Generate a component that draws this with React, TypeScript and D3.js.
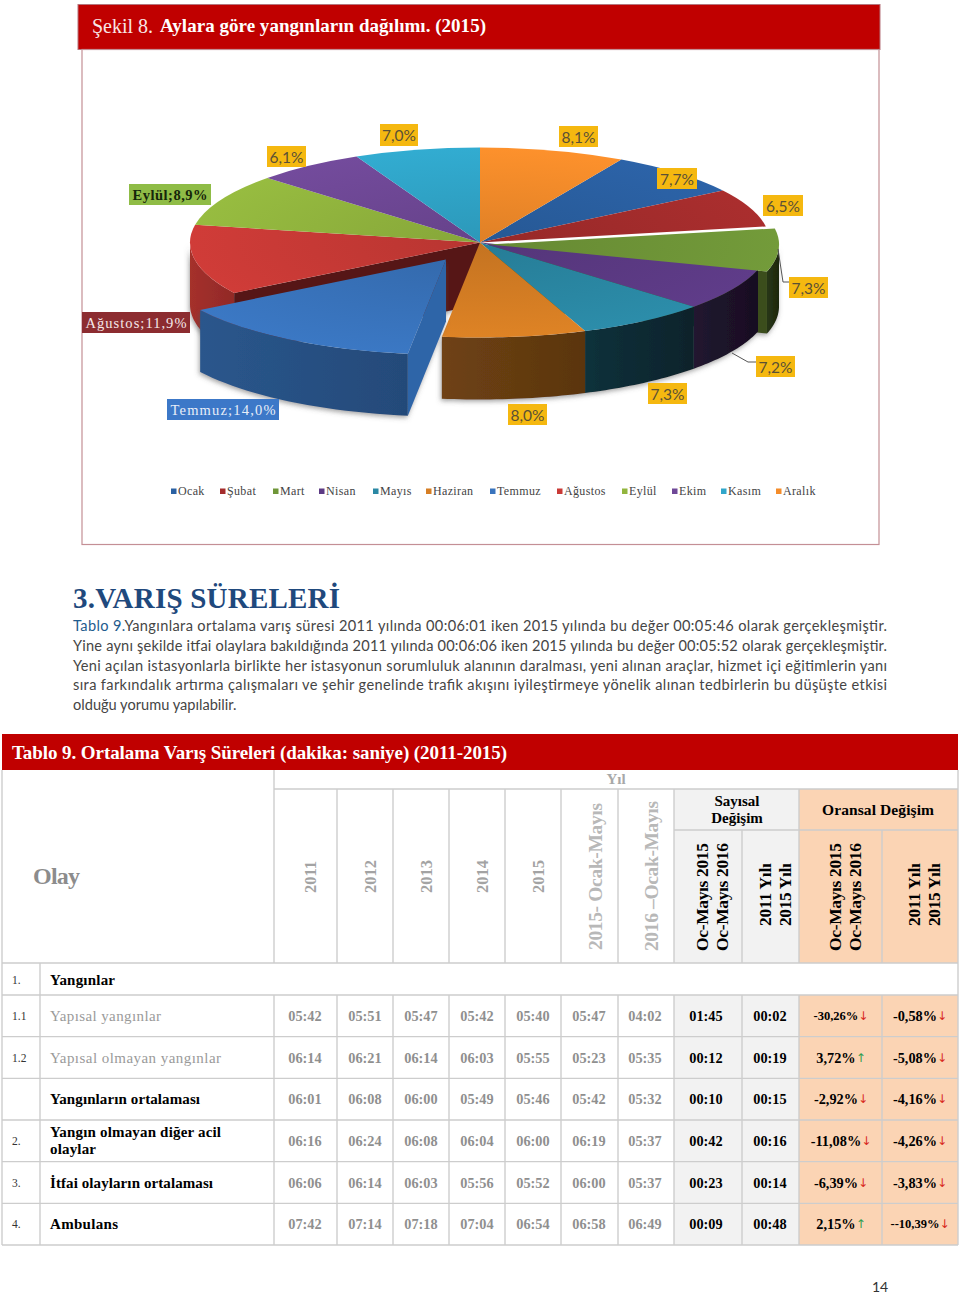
import React, { useEffect, useRef } from 'react';
import * as d3 from 'd3';

// pie data, Ocak first
const months = ['Ocak', 'Şubat', 'Mart', 'Nisan', 'Mayıs', 'Haziran', 'Temmuz', 'Ağustos', 'Eylül', 'Ekim', 'Kasım', 'Aralık'];
const shares = [7.7, 6.5, 7.3, 7.2, 7.3, 8.0, 14.0, 11.9, 8.9, 6.1, 7.0, 8.1];
const sliceColors = ['#2a60a2', '#a42c2c', '#6f9638', '#5c3a84', '#2a88a4', '#d67e24', '#3974bd', '#c93a36', '#92b53e', '#6f4897', '#30a6ca', '#f48c2a'];

// table data
const rowNumbers = ['1.1', '1.2', '', '2.', '3.', '4.'];
const rowNames = ['Yapısal yangınlar', 'Yapısal olmayan yangınlar', 'Yangınların ortalaması', 'Yangın olmayan diğer acil|olaylar', 'İtfai olayların ortalaması', 'Ambulans'];
const y2011 = ['05:42', '06:14', '06:01', '06:16', '06:06', '07:42'];
const y2012 = ['05:51', '06:21', '06:08', '06:24', '06:14', '07:14'];
const y2013 = ['05:47', '06:14', '06:00', '06:08', '06:03', '07:18'];
const y2014 = ['05:42', '06:03', '05:49', '06:04', '05:56', '07:04'];
const y2015 = ['05:40', '05:55', '05:46', '06:00', '05:52', '06:54'];
const oc2015 = ['05:47', '05:23', '05:42', '06:19', '06:00', '06:58'];
const oc2016 = ['04:02', '05:35', '05:32', '05:37', '05:37', '06:49'];
const diffOc = ['01:45', '00:12', '00:10', '00:42', '00:23', '00:09'];
const diffYear = ['00:02', '00:19', '00:15', '00:16', '00:14', '00:48'];
const rateOc = ['-30,26%', '3,72%', '-2,92%', '-11,08%', '-6,39%', '2,15%'];
const rateYear = ['-0,58%', '-5,08%', '-4,16%', '-4,26%', '-3,83%', '--10,39%'];

const paragraph = [
  'Yangınlara ortalama varış süresi 2011 yılında 00:06:01 iken 2015 yılında bu değer 00:05:46 olarak gerçekleşmiştir.',
  'Yine aynı şekilde itfai olaylara bakıldığında 2011 yılında 00:06:06 iken 2015 yılında bu değer 00:05:52 olarak gerçekleşmiştir.',
  'Yeni açılan istasyonlarla birlikte her istasyonun sorumluluk alanının daralması, yeni alınan araçlar, hizmet içi eğitimlerin yanı',
  'sıra farkındalık artırma çalışmaları ve şehir genelinde trafik akışını iyileştirmeye yönelik alınan tedbirlerin bu düşüşte etkisi',
  'olduğu yorumu yapılabilir.',
];

const SERIF = '"Liberation Serif", serif';
const SANS = 'Lato, "Open Sans", sans-serif';

export default function App() {
  const svgRef = useRef<SVGSVGElement>(null);

  useEffect(() => {
    if (!svgRef.current) return;
    const svg = d3.select(svgRef.current);
    svg.selectAll('*').remove();
    const defs = svg.append('defs');

    const txt = (parent: any, x: number, y: number, s: string, o: any = {}) =>
      parent.append('text')
        .attr('x', x).attr('y', y)
        .attr('dominant-baseline', 'central')
        .attr('font-family', o.family ?? SERIF)
        .attr('font-size', o.size ?? 14)
        .attr('font-weight', o.weight ?? 'normal')
        .attr('fill', o.fill ?? '#000')
        .attr('text-anchor', o.anchor ?? 'start')
        .attr('letter-spacing', o.ls ?? null)
        .attr('textLength', o.len ?? null)
        .attr('transform', o.rot ? `rotate(-90 ${x} ${y})` : null)
        .text(s);

    // header band + chart frame
    svg.append('rect').attr('x', 78).attr('y', 4.5).attr('width', 802).attr('height', 45)
      .attr('fill', '#c00000').attr('stroke', '#b5757d');
    svg.append('rect').attr('x', 82).attr('y', 49.5).attr('width', 797).attr('height', 495)
      .attr('fill', '#fff').attr('stroke', '#c48f95').attr('stroke-width', 1.2);
    txt(svg, 92, 25.5, 'Şekil 8.', { size: 20, fill: '#f8e6e6', len: 61 });
    txt(svg, 160, 25.5, 'Aylara göre yangınların dağılımı. (2015)', { size: 19, weight: 'bold', fill: '#fff', len: 326 });

    // 3d pie
    const cx = 480, cy = 242.5, rx = 290, ry = 95, depth = 62;
    const offsets: Record<string, [number, number]> = { Temmuz: [-34, 17], Mart: [9, 2] };
    const wallDark: Record<string, number> = { Mart: 0.68, Nisan: 0.68, Mayıs: 0.68, Haziran: 0.52, Temmuz: 0.3, Ağustos: 0.22 };

    const start = (shares[11] / 100) * 2 * Math.PI;
    const arcs = d3.pie<number>().sort(null).startAngle(start).endAngle(start + 2 * Math.PI)(shares);
    const byName = (n: string) => arcs[months.indexOf(n)];
    const off = (n: string) => offsets[n] ?? [0, 0];
    const topArc = d3.arc<any>().innerRadius(0).outerRadius(rx);
    const line = d3.line();
    const px = (a: number, d: [number, number]) => cx + d[0] + rx * Math.sin(a);
    const py = (a: number, d: [number, number]) => cy + d[1] - ry * Math.cos(a);

    const shadow = defs.append('filter').attr('id', 'shadow').attr('x', '-10%').attr('y', '-10%').attr('width', '120%').attr('height', '125%');
    shadow.append('feDropShadow').attr('dx', -1).attr('dy', 2).attr('stdDeviation', 2.5)
      .attr('flood-color', '#555').attr('flood-opacity', 0.55);

    months.forEach((m, i) => {
      const c = sliceColors[i];
      const g = defs.append('radialGradient').attr('id', `top${i}`)
        .attr('gradientUnits', 'userSpaceOnUse').attr('cx', 0).attr('cy', 0).attr('r', rx);
      g.append('stop').attr('offset', 0).attr('stop-color', d3.color(c)!.darker(0.25).formatHex());
      g.append('stop').attr('offset', 1).attr('stop-color', d3.color(c)!.brighter(0.1).formatHex());
      const w = defs.append('linearGradient').attr('id', `wall${i}`).attr('x1', 0).attr('x2', 1);
      const dark = wallDark[m] ?? 0.5;
      w.append('stop').attr('offset', 0).attr('stop-color', d3.interpolateRgb(c, '#000')(dark - 0.04));
      w.append('stop').attr('offset', 1).attr('stop-color', d3.interpolateRgb(c, '#000')(dark + 0.06));
    });

    const drawWall = (parent: any, m: string) => {
      const a = byName(m);
      const d = off(m);
      const a0 = Math.max(a.startAngle, Math.PI / 2);
      const a1 = Math.min(a.endAngle, (3 * Math.PI) / 2);
      if (a1 <= a0) return;
      const ts = d3.range(25).map(k => a0 + ((a1 - a0) * k) / 24);
      const pts: [number, number][] = [
        ...ts.map(t => [px(t, d), py(t, d)] as [number, number]),
        ...ts.slice().reverse().map(t => [px(t, d), py(t, d) + depth] as [number, number]),
      ];
      parent.append('path').attr('d', line(pts)! + 'Z').attr('fill', `url(#wall${months.indexOf(m)})`);
    };
    const drawCut = (parent: any, m: string, angle: number, fill: string) => {
      const d = off(m);
      const hx = cx + d[0], hy = cy + d[1];
      const pts: [number, number][] = [[hx, hy], [px(angle, d), py(angle, d)], [px(angle, d), py(angle, d) + depth], [hx, hy + depth]];
      parent.append('path').attr('d', line(pts)! + 'Z').attr('fill', fill);
    };
    const drawTop = (parent: any, m: string) => {
      const a = byName(m);
      const d = off(m);
      parent.append('path')
        .attr('transform', `translate(${cx + d[0]},${cy + d[1]}) scale(1,${ry / rx})`)
        .attr('d', topArc({ startAngle: a.startAngle, endAngle: a.endAngle }))
        .attr('fill', `url(#top${months.indexOf(m)})`);
    };

    const pie = svg.append('g');
    const walls = pie.append('g').attr('filter', 'url(#shadow)');
    drawWall(walls, 'Mart');
    drawCut(walls, 'Mart', byName('Mart').endAngle, '#3b4d1c');
    drawWall(walls, 'Ağustos');
    drawCut(walls, 'Ağustos', byName('Ağustos').startAngle, '#561414');
    ['Nisan', 'Mayıs', 'Haziran'].forEach(m => drawWall(walls, m));
    months.filter(m => !offsets[m]).forEach(m => drawTop(pie, m));
    const temmuz = pie.append('g').attr('filter', 'url(#shadow)');
    drawWall(temmuz, 'Temmuz');
    drawCut(temmuz, 'Temmuz', byName('Temmuz').startAngle, '#2e65a8');
    drawTop(pie, 'Temmuz');
    drawTop(pie, 'Mart');

    // leader lines
    const leaders: [number, number][][] = [
      [[778, 249], [783, 282], [790, 282]],
      [[732, 353], [748, 362], [757, 362]],
    ];
    leaders.forEach(l => pie.append('path').attr('d', line(l)).attr('fill', 'none').attr('stroke', '#555').attr('stroke-width', 1));

    // data labels, box left/top per month in chart order
    const fmt = (v: number) => v.toFixed(1).replace('.', ',') + '%';
    const boxes: Record<string, number[]> = {
      Ocak: [657, 168, 40, 21], Şubat: [763, 195, 40, 21], Mart: [789, 277, 39, 21], Nisan: [756, 356, 39, 21],
      Mayıs: [648, 383, 39, 21], Haziran: [508, 404, 39, 21], Temmuz: [167, 399, 112, 21], Ağustos: [82, 312, 108, 21],
      Eylül: [129, 184, 82, 21], Ekim: [267, 146, 39, 21], Kasım: [380, 124, 38, 22], Aralık: [559, 126, 39, 21],
    };
    const named: Record<string, [string, string]> = { Temmuz: ['#3c78c8', '#e8eef8'], Ağustos: ['#8c2c30', '#f5e8e8'], Eylül: ['#8fbc46', '#16260a'] };
    months.forEach((m, i) => {
      const b = boxes[m];
      const n = named[m];
      svg.append('rect').attr('x', b[0]).attr('y', b[1]).attr('width', b[2]).attr('height', b[3]).attr('fill', n ? n[0] : '#f5b810');
      if (n) {
        txt(svg, b[0] + b[2] / 2, b[1] + b[3] / 2, `${m};${fmt(shares[i])}`, { size: 14.5, weight: m === 'Eylül' ? 'bold' : 'normal', fill: n[1], anchor: 'middle', len: b[2] - 7 });
      } else {
        txt(svg, b[0] + b[2] / 2, b[1] + b[3] / 2, fmt(shares[i]), { size: 15.5, family: SANS, fill: '#5a5036', anchor: 'middle' });
      }
    });

    // legend
    const legendX = d3.scaleOrdinal<string, number>().domain(months).range([171, 220, 273, 319, 373, 426, 490, 557, 622, 672, 721, 776]);
    months.forEach((m, i) => {
      svg.append('rect').attr('x', legendX(m)).attr('y', 488.5).attr('width', 5.5).attr('height', 5.5).attr('fill', sliceColors[i]);
      txt(svg, legendX(m) + 7, 491, m, { size: 12, fill: '#444', ls: 0.35 });
    });

    // text block
    txt(svg, 73, 598, '3.VARIŞ SÜRELERİ', { size: 29, weight: 'bold', fill: '#1f497d', len: 267 });
    const lineY = d3.scalePoint<number>().domain(d3.range(5)).range([625, 704]);
    paragraph.forEach((s, i) => {
      const t = svg.append('text').attr('x', 73).attr('y', lineY(i)!).attr('dominant-baseline', 'central')
        .attr('font-family', SANS).attr('font-size', 14.6).attr('fill', '#454545');
      if (i < 4) t.attr('textLength', 814);
      if (i === 0) t.append('tspan').attr('fill', '#1f5c8e').text('Tablo 9.');
      t.append('tspan').text(s);
    });

    // table
    const colEdges = [2, 40, 274, 337, 393, 449, 505, 561, 618, 674, 742, 799, 882, 958];
    const rowScale = d3.scaleBand<number>().domain(d3.range(6)).range([995, 1245]);
    const colCenters = d3.scaleOrdinal<number, number>().domain(d3.range(11)).range([305, 365, 421, 477, 533, 589, 645, 706, 770, 841, 920]);
    const grid = '#cdcdcd';

    svg.append('rect').attr('x', 2).attr('y', 734).attr('width', 956).attr('height', 36).attr('fill', '#c00000');
    txt(svg, 12, 752, 'Tablo 9. Ortalama Varış Süreleri (dakika: saniye) (2011-2015)', { size: 19, weight: 'bold', fill: '#fff', len: 495 });

    svg.append('rect').attr('x', 674).attr('y', 789).attr('width', 125).attr('height', 174).attr('fill', '#f2f2f2');
    svg.append('rect').attr('x', 799).attr('y', 789).attr('width', 159).attr('height', 174).attr('fill', '#fbd4b4');
    svg.append('rect').attr('x', 674).attr('y', 995).attr('width', 125).attr('height', 250).attr('fill', '#f2f2f2');
    svg.append('rect').attr('x', 799).attr('y', 995).attr('width', 159).attr('height', 250).attr('fill', '#fbd4b4');

    const seg = (x1: number, y1: number, x2: number, y2: number) =>
      svg.append('line').attr('x1', x1).attr('y1', y1).attr('x2', x2).attr('y2', y2).attr('stroke', grid).attr('stroke-width', 1.4);

    seg(2, 770, 2, 1245);
    seg(958, 770, 958, 1245);
    seg(274, 770, 274, 963);
    seg(274, 789, 958, 789);
    seg(674, 830, 958, 830);
    seg(2, 963, 958, 963);
    seg(40, 963, 40, 1245);
    d3.range(7).forEach(i => seg(2, 995 + rowScale.step() * i, 958, 995 + rowScale.step() * i));
    colEdges.slice(2).slice(0, -1).forEach(x => seg(x, 995, x, 1245));
    [337, 393, 449, 505, 561, 618, 674, 799].forEach(x => seg(x, 789, x, 963));
    [742, 882].forEach(x => seg(x, 830, x, 963));

    const gray = '#8f8f8f';
    txt(svg, 33, 876, 'Olay', { size: 24, weight: 'bold', fill: '#8c8c8c', len: 47 });
    txt(svg, 616, 779, 'Yıl', { size: 15, weight: 'bold', fill: '#a8a8a8', anchor: 'middle' });
    const yearHead: [string, number][] = [['2011', 310], ['2012', 370], ['2013', 426], ['2014', 482], ['2015', 538]];
    yearHead.forEach(([s, x]) => txt(svg, x, 893, s, { size: 16.5, weight: 'bold', fill: '#a3a3a3', rot: true }));
    txt(svg, 595, 950, '2015- Ocak-Mayıs', { size: 19.5, weight: 'bold', fill: '#b8b8b8', rot: true, len: 147 });
    txt(svg, 651, 951, '2016 –Ocak-Mayıs', { size: 19.5, weight: 'bold', fill: '#b8b8b8', rot: true, len: 150 });
    txt(svg, 737, 801, 'Sayısal', { size: 15, weight: 'bold', anchor: 'middle' });
    txt(svg, 737, 818, 'Değişim', { size: 15, weight: 'bold', anchor: 'middle' });
    txt(svg, 878, 809.5, 'Oransal Değişim', { size: 15.5, weight: 'bold', anchor: 'middle', len: 112 });
    const vert: [string, number, number, number][] = [
      ['Oc-Mayıs 2015', 702, 951, 108], ['Oc-Mayıs 2016', 722, 951, 108], ['2011 Yılı', 765, 926, 63], ['2015 Yılı', 785, 926, 63],
      ['Oc-Mayıs 2015', 835, 951, 108], ['Oc-Mayıs 2016', 855, 951, 108], ['2011 Yılı', 914, 926, 63], ['2015 Yılı', 934, 926, 63],
    ];
    vert.forEach(([s, x, y, len]) => txt(svg, x, y, s, { size: 17.5, weight: 'bold', rot: true, len }));

    txt(svg, 12, 980, '1.', { size: 11.5, fill: '#333' });
    txt(svg, 50, 980, 'Yangınlar', { size: 15, weight: 'bold', len: 65 });

    // label widths measured on the page so the serif runs as wide as the source font
    const nameLen = [[111], [171], [150], [171, 46], [163], [68]];
    const timeCols = [y2011, y2012, y2013, y2014, y2015, oc2015, oc2016, diffOc, diffYear];
    rowNumbers.forEach((num, r) => {
      const y = rowScale(r)! + rowScale.bandwidth() / 2;
      txt(svg, 12, y, num, { size: 11.5, fill: '#333' });
      const parts = rowNames[r].split('|');
      const plain = r < 2;
      if (parts.length === 2) {
        txt(svg, 50, y - 8.5, parts[0], { size: 15, weight: 'bold', len: nameLen[r][0] });
        txt(svg, 50, y + 8.5, parts[1], { size: 15, weight: 'bold', len: nameLen[r][1] });
      } else {
        txt(svg, 50, y, parts[0], { size: 15, weight: plain ? 'normal' : 'bold', fill: plain ? '#9a9a9a' : '#000', len: nameLen[r][0] });
      }
      timeCols.forEach((col, c) => {
        txt(svg, colCenters(c), y, col[r], { size: 14.3, weight: 'bold', fill: c < 7 ? gray : '#000', anchor: 'middle' });
      });
      [rateOc, rateYear].forEach((col, c) => {
        const v = col[r];
        const down = v.startsWith('-');
        const small = v === '-30,26%' || v === '--10,39%';
        const t = txt(svg, colCenters(9 + c), y, '', { size: small ? 12.5 : 14.3, weight: 'bold', anchor: 'middle' });
        t.append('tspan').text(v);
        t.append('tspan').attr('fill', down ? '#d8281c' : '#2f9e4f').attr('font-family', '"DejaVu Sans"').attr('font-weight', 'normal').attr('font-size', 12).text(down ? '↓' : '↑');
      });
    });

    txt(svg, 880, 1286, '14', { size: 14, family: SANS, fill: '#333', anchor: 'middle' });
  }, []);

  return <svg ref={svgRef} width={960} height={1294} style={{ position: 'absolute', left: 0, top: 0 }} />;
}
